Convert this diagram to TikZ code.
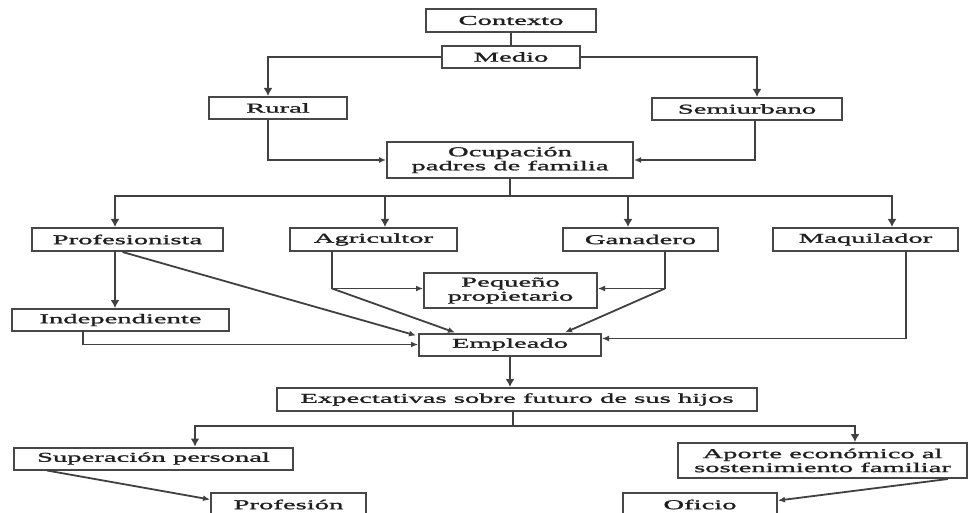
\documentclass[tikz,border=0pt]{standalone}
\usepackage{fontspec}
\setmainfont{Liberation Serif}[FakeStretch=2.12,FakeBold=1.6]
\usetikzlibrary{arrows.meta,calc}
\begin{document}
\begin{tikzpicture}[x=1pt,y=-1pt,
 box/.style={draw=black!72,line width=2pt,inner sep=0pt,align=center,text=black!88,font=\fontsize{13.5}{14}\selectfont},
 sz/.style 2 args={minimum width=#1pt,minimum height=#2pt},
 ln/.style={draw=black!75,line width=1.8pt},
 arr/.style={ln,line width=2.2pt,-{Latex[length=8pt,width=9pt]}},
 sarr/.style={ln,-{Latex[length=7pt,width=6pt]}}]
\useasboundingbox (0,0) rectangle (969,513);
\clip (0,0) rectangle (969,513);
% boxes
\node[box,sz={170}{23}] (ctx) at (511,20.5) {Contexto};
\node[box,sz={138}{22}] (med) at (511,57) {Medio};
\node[box,sz={138}{22}] (rur) at (278,108) {Rural};
\node[box,sz={190}{22}] (sem) at (747,109) {Semiurbano};
\node[box,sz={246}{36}] (ocu) at (510,160) {Ocupación\\padres de familia};
\node[box,sz={191}{23}] (pro) at (127.5,239.5) {Profesionista};
\node[box,sz={167}{23}] (agr) at (373.5,239.5) {Agricultor};
\node[box,sz={155}{23}] (gan) at (640.5,239.5) {Ganadero};
\node[box,sz={185}{23}] (maq) at (865.5,239.5) {Maquilador};
\node[box,sz={173}{35}] (peq) at (510.5,290.5) {Pequeño\\propietario};
\node[box,sz={217}{22}] (ind) at (120.5,320) {Independiente};
\node[box,sz={182}{22}] (emp) at (510,344.5) {Empleado};
\node[box,sz={480}{23}] (exp) at (517,399.5) {Expectativas sobre futuro de sus hijos};
\node[box,sz={279}{22}] (sup) at (153.5,458.5) {Superación personal};
\node[box,sz={289}{35}] (apo) at (822.5,460.5) {Aporte económico al\\sostenimiento familiar};
\node[box,sz={155}{23}] (prf) at (288.5,504.5) {Profesión};
\node[box,sz={154}{23}] (ofi) at (700,504.5) {Oficio};
% top
\draw[ln,line width=2.2pt] (ctx.south) -- (med.north);
\draw[arr] (med.west) -| ($(rur.north)+(-10,0)$);
\draw[arr] (med.east) -| ($(sem.north)+(10,0)$);
\draw[sarr] ($(rur.south)+(-10,0)$) |- (ocu.west);
\draw[sarr] ($(sem.south)+(8,0)$) |- (ocu.east);
% branch to occupations
\coordinate (b) at ($(ocu.south)+(0,17)$);
\draw[ln,line width=2.2pt] (ocu.south) -- (b);
\draw[arr] (b) -| ($(pro.north)+(-12.5,0)$);
\draw[arr] (b) -| ($(agr.north)+(11.5,0)$);
\draw[arr] (b) -| ($(gan.north)+(-12.5,0)$);
\draw[arr] (b) -| ($(maq.north)+(26.5,0)$);
% profesionista
\coordinate (px) at ($(pro.south)+(-12.5,0)$);
\draw[arr] (px) -- (px |- ind.north);
\draw[sarr] ($(pro.south)+(-5,0)$) -- ($(emp.north west)+(-2,3)$);
\coordinate (ix) at ($(ind.south)+(-37.5,0)$);
\draw[sarr] (ix) |- (emp.west);
% agricultor / ganadero
\coordinate (pw) at ($(peq.west)+(0,-2)$);
\coordinate (pe) at ($(peq.east)+(0,-2)$);
\coordinate (ax) at ($(agr.south)+(-41.5,0)$);
\coordinate (aj) at (ax |- pw);
\draw[sarr] (ax) |- (pw);
\draw[sarr] (aj) -- ($(emp.north)+(-55,0)$);
\coordinate (gx) at ($(gan.south)+(24.5,0)$);
\coordinate (gj) at (gx |- pe);
\draw[sarr] (gx) |- (pe);
\draw[sarr] (gj) -- ($(emp.north)+(55,0)$);
% maquilador
\coordinate (mx) at ($(maq.south)+(40.5,0)$);
\coordinate (me) at ($(emp.east)+(0,-6)$);
\draw[sarr] (mx) |- (me);
% expectativas
\draw[arr] (emp.south) -- (emp.south |- exp.north);
\coordinate (eb) at ($(exp.south)+(-4,14)$);
\draw[ln] (eb |- exp.south) -- (eb);
\draw[arr] (eb) -| ($(sup.north)+(41.5,0)$);
\draw[arr] (eb) -| ($(apo.north)+(32.5,0)$);
\draw[sarr] ($(sup.south)+(-106.5,0)$) -- ($(prf.west)+(0,-5)$);
\draw[sarr] ($(apo.south)+(125.5,0)$) -- ($(ofi.east)+(0,-4)$);
\end{tikzpicture}
\end{document}
